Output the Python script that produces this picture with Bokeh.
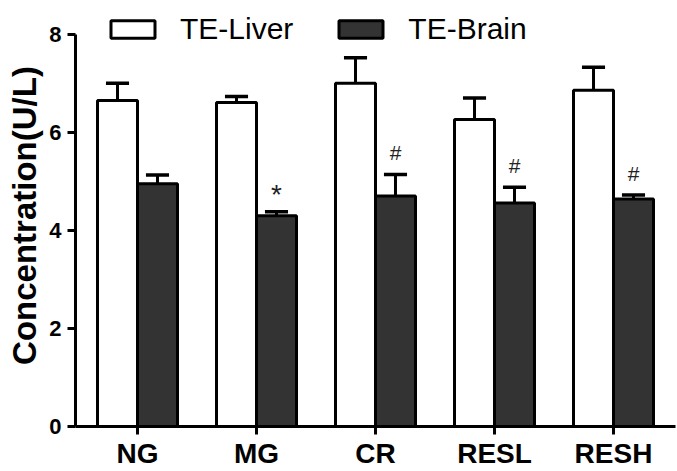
from bokeh.plotting import figure
from bokeh.models import ColumnDataSource, Range1d, FixedTicker, Legend, LegendItem
from bokeh.core.properties import value
from bokeh.embed import file_html
from bokeh.resources import INLINE

groups = ["NG", "MG", "CR", "RESL", "RESH"]
liver = [6.65, 6.61, 7.00, 6.26, 6.86]
liver_err = [0.35, 0.12, 0.52, 0.44, 0.47]
brain = [4.95, 4.30, 4.70, 4.56, 4.64]
brain_err = [0.18, 0.08, 0.44, 0.32, 0.08]
marks = ["", "*", "#", "#", "#"]
y_ticks = [0, 2, 4, 6, 8]

FONT = "Liberation Sans"
bw = 0.336
cap = 0.097

xs = list(range(len(groups)))
lx = [x - bw / 2 for x in xs]
bx = [x + bw / 2 for x in xs]

src = ColumnDataSource(dict(
    lx=lx, bx=bx, liver=liver, brain=brain,
    ltop=[v + e for v, e in zip(liver, liver_err)],
    btop=[v + e for v, e in zip(brain, brain_err)],
    lx0=[x - cap for x in lx], lx1=[x + cap for x in lx],
    bx0=[x - cap for x in bx], bx1=[x + cap for x in bx],
    my=[v + e + (0.36 if m == "*" else 0.45) for v, e, m in zip(brain, brain_err, marks)],
    marks=marks,
    msize=["28px" if m == "*" else "21px" for m in marks],
))

p = figure(width=677, height=471, output_backend="svg", toolbar_location=None,
           x_range=Range1d(-0.521, 4.521), y_range=Range1d(0, 8.6076),
           min_border_left=75, min_border_right=2, min_border_top=4, min_border_bottom=42)
p.outline_line_color = None
p.xgrid.visible = False
p.ygrid.visible = False
p.background_fill_color = "white"

r_l = p.vbar(x="lx", top="liver", bottom=0, width=bw, source=src,
             fill_color="white", line_color="black", line_width=3)
r_b = p.vbar(x="bx", top="brain", bottom=0, width=bw, source=src,
             fill_color="#333333", line_color="black", line_width=3)

# error bars (upper only)
p.segment(x0="lx", y0="liver", x1="lx", y1="ltop", source=src, line_color="black", line_width=3)
p.segment(x0="lx0", y0="ltop", x1="lx1", y1="ltop", source=src, line_color="black", line_width=3.5)
p.segment(x0="bx", y0="brain", x1="bx", y1="btop", source=src, line_color="black", line_width=3)
p.segment(x0="bx0", y0="btop", x1="bx1", y1="btop", source=src, line_color="black", line_width=3.5)

p.text(x="bx", y="my", text="marks", source=src, text_align="center", text_baseline="middle",
       text_font=value(FONT), text_font_size="msize", text_color="#222222")

# axes
p.xaxis.ticker = FixedTicker(ticks=xs)
p.xaxis.major_label_overrides = {i: g for i, g in enumerate(groups)}
p.xaxis.axis_line_width = 3
p.xaxis.major_tick_line_width = 3
p.xaxis.major_tick_out = 8
p.xaxis.major_tick_in = 0
p.xaxis.minor_tick_line_color = None
p.xaxis.major_label_text_font = FONT
p.xaxis.major_label_text_font_style = "bold"
p.xaxis.major_label_text_font_size = "28px"
p.xaxis.major_label_text_color = "black"
p.xaxis.major_label_standoff = 3

p.yaxis.ticker = FixedTicker(ticks=y_ticks)
p.yaxis.bounds = (0, 8)
p.yaxis.axis_line_width = 3
p.yaxis.major_tick_line_width = 3
p.yaxis.major_tick_out = 8
p.yaxis.major_tick_in = 0
p.yaxis.minor_tick_line_color = None
p.yaxis.major_label_text_font = FONT
p.yaxis.major_label_text_font_style = "bold"
p.yaxis.major_label_text_font_size = "22px"
p.yaxis.major_label_text_color = "black"
p.yaxis.major_label_standoff = 6
p.yaxis.axis_label = "Concentration(U/L)"
p.yaxis.axis_label_text_font = FONT
p.yaxis.axis_label_text_font_style = "bold"
p.yaxis.axis_label_text_font_size = "33px"
p.yaxis.axis_label_text_color = "black"
p.yaxis.axis_label_standoff = 3

legend = Legend(items=[LegendItem(label="TE-Liver", renderers=[r_l]),
                       LegendItem(label="TE-Brain", renderers=[r_b])],
                orientation="horizontal", location=(30, 380),
                glyph_width=55, glyph_height=22, label_standoff=20, spacing=40,
                padding=0, margin=0, border_line_color=None, background_fill_alpha=0,
                label_text_font=FONT, label_text_font_size="30px", label_text_color="black")
p.add_layout(legend, "center")

open("out.html", "w").write(file_html(p, INLINE))
